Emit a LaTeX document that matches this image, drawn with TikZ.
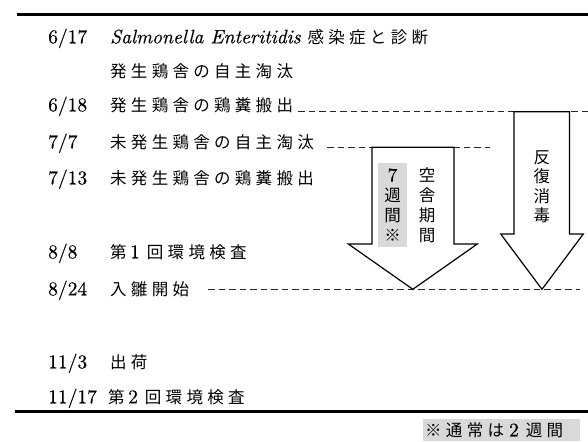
\documentclass[tikz,border=0pt]{standalone}
\usepackage{fontspec}
\setmainfont{lmroman10-regular.otf}[ItalicFont=lmroman10-italic.otf, FakeBold=0.35]
\newfontfamily\jpls[LetterSpace=26]{Noto Sans CJK JP}
\newfontfamily\jpplain{Noto Sans CJK JP}
\newcommand\lmf{\fontsize{19.5}{20}\selectfont\rmfamily\upshape}
\newcommand\jpf{\fontsize{16.5}{20}\selectfont\jpls}
\newcommand\jpv{\fontsize{16.5}{20}\selectfont\jpplain}
\begin{document}
\begin{tikzpicture}[x=1pt,y=-1pt,
  date/.style={anchor=base west, inner sep=0, font=\lmf},
  item/.style={anchor=base west, inner sep=0, font=\jpf},
  rulebar/.style={line width=3pt},
  leader/.style={line width=1pt, black!85, dash pattern=on 6.5pt off 4pt},
  bigarrow/.style={draw, line width=1.2pt, fill=white, line join=miter},
  vlabel/.style={align=center, inner sep=0, font=\jpv},
  shade/.style={fill=black!15}]
\useasboundingbox (0,0) rectangle (588,441);

% rules
\coordinate (rt1) at (17,14.3);
\coordinate (rt2) at (588,14.3);
\coordinate (rb1) at (15,411.5);
\coordinate (rb2) at (588,411.5);
\draw[rulebar] (rt1) -- (rt2);
\draw[rulebar] (rb1) -- (rb2);

% dates
\node[date] (d1) at (48,43.3) {6/17};
\node[date] (d3) at (48,111.3) {6/18};
\node[date] (d4) at (48,148.3) {7/7};
\node[date] (d5) at (48,184.3) {7/13};
\node[date] (d6) at (48,258.3) {8/8};
\node[date] (d7) at (48,295.3) {8/24};
\node[date] (d8) at (48,368.3) {11/3};
\node[date] (d9) at (48,403.3) {11/17};

% items
\node[item] (t1) at (110,43.3) {{\lmf\itshape Salmonella Enteritidis }感染症と診断};
\node[item] (t2) at (110,77.3) {発生鶏舎の自主淘汰};
\node[item] (t3) at (110,111.3) {発生鶏舎の鶏糞搬出};
\node[item] (t4) at (110,148.3) {未発生鶏舎の自主淘汰};
\node[item] (t5) at (110,184.3) {未発生鶏舎の鶏糞搬出};
\node[item] (t6) at (110,258.3) {第\hspace{3.5pt}{\lmf 1}\hspace{7pt}回環境検査};
\node[item] (t7) at (110,295.3) {入雛開始};
\node[item] (t8) at (110,368.3) {出荷};
\node[item] (t9) at (108,403.3) {第\hspace{3.5pt}{\lmf 2}\hspace{7pt}回環境検査};

% leaders
\coordinate (a1) at (298,111.7);
\coordinate (b1) at (588,111.7);
\coordinate (a2) at (327,147.3);
\coordinate (b2) at (490,147.3);
\coordinate (a3) at (208,289);
\coordinate (b3) at (580,289);
\draw[leader] (a1) -- (b1);
\draw[leader] (a2) -- (b2);
\draw[leader] (a3) -- (b3);

% big arrows
\draw[bigarrow] (372,147.3) -- (454,147.3) -- (454,244) -- (477.3,244)
  -- (412.8,289.3) -- (348.3,244) -- (372,244) -- cycle;
\draw[bigarrow] (514,111.7) -- (569.5,111.7) -- (569.5,234) -- (583.3,234)
  -- (542,289.3) -- (500.7,234) -- (514,234) -- cycle;

% vertical labels
\node[vlabel, shade, minimum width=29pt, minimum height=84pt] (wk) at (392.5,205)
  {{\lmf 7}\\週\\間\\※};
\node[vlabel] (ks) at (427,205) {空\\舎\\期\\間};
\node[vlabel, font=\fontsize{16.5}{19.5}\selectfont\jpplain] (hs) at (541.8,187)
  {反\\復\\消\\毒};

% footnote
\node[shade, anchor=north west, minimum width=157pt, minimum height=22pt,
  inner xsep=2pt, inner ysep=0, text width=153pt, align=left, font=\jpf] (fn)
  at (423,419) {※通常は\hspace{5pt}{\lmf 2}\hspace{7pt}週間};
\end{tikzpicture}
\end{document}
